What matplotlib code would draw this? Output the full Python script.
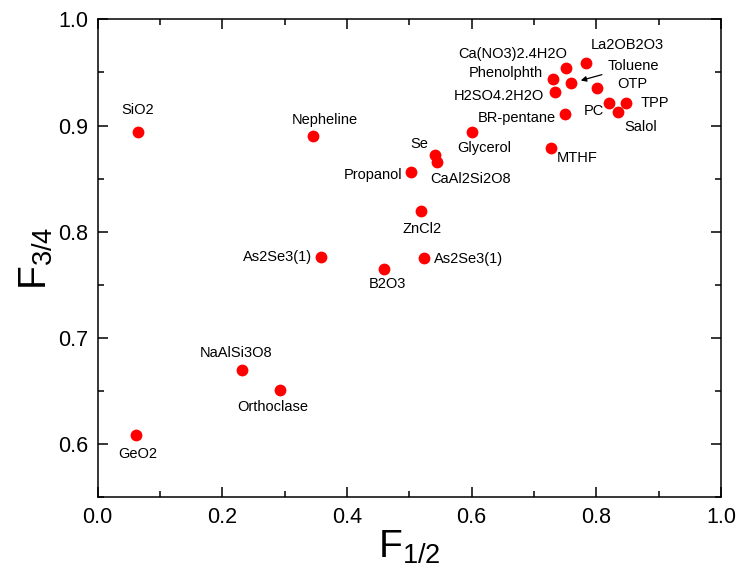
import matplotlib
matplotlib.use("Agg")
import matplotlib.pyplot as plt
from matplotlib.ticker import MultipleLocator

plt.rcParams['font.family'] = ['Liberation Sans', 'DejaVu Sans']
plt.rcParams['mathtext.fontset'] = 'custom'
plt.rcParams['mathtext.rm'] = 'Liberation Sans'
plt.rcParams['mathtext.it'] = 'Liberation Sans'

names = ["SiO2", "GeO2", "NaAlSi3O8", "Orthoclase", "Nepheline", "As2Se3(1)",
         "Se", "CaAl2Si2O8", "Propanol", "Glycerol", "BR-pentane", "MTHF",
         "ZnCl2", "As2Se3(1)", "B2O3", "La2OB2O3", "Toluene", "OTP", "TPP",
         "PC", "Salol", "Ca(NO3)2.4H2O", "Phenolphth", "H2SO4.2H2O"]
f_half = [0.065, 0.061, 0.232, 0.292, 0.345, 0.358,
          0.541, 0.544, 0.502, 0.601, 0.750, 0.727,
          0.519, 0.523, 0.460, 0.784, 0.760, 0.801, 0.848,
          0.820, 0.835, 0.752, 0.731, 0.733]
f_34 = [0.894, 0.609, 0.670, 0.651, 0.890, 0.776,
        0.872, 0.866, 0.856, 0.894, 0.911, 0.879,
        0.820, 0.775, 0.765, 0.959, 0.940, 0.935, 0.921,
        0.921, 0.913, 0.954, 0.944, 0.932]

# label offsets (pixels) and alignment
offsets = [(-1, 22, 'center'), (2, -19, 'center'), (-6, 17, 'center'), (-7, -17, 'center'),
           (12, 16, 'center'), (-9, 0, 'right'), (-16, 11, 'center'), (34, -17, 'center'),
           (-8, -3, 'right'), (12, -16, 'center'), (-9, -4, 'right'), (26, -10, 'center'),
           (1, -18, 'center'), (10, -1, 'left'), (3, -15, 'center'), (4, 18, 'left'),
           (36, 17, 'left'), (20, 4, 'left'), (14, 0, 'left'),
           (-5, -8, 'right'), (23, -15, 'center'), (1, 14, 'right'), (-10, 6, 'right'),
           (-11, -4, 'right')]

fig = plt.figure(figsize=(7.39, 5.70), dpi=100)
ax = fig.add_axes([0.1322, 0.1272, 0.8434, 0.8389])

ax.plot(f_half, f_34, 'o', color='#ff0000', ms=8.5, mec='none', ls='none', zorder=3)

for n, x, y, (dx, dy, ha) in zip(names, f_half, f_34, offsets):
    if n == "Toluene":
        ax.annotate(n, (x, y), xytext=(dx, dy), textcoords='offset pixels',
                    ha=ha, va='center', fontsize=10.5,
                    arrowprops=dict(arrowstyle='-|>', color='black', lw=0.9,
                                    shrinkA=2, shrinkB=7, mutation_scale=8))
    else:
        ax.annotate(n, (x, y), xytext=(dx, dy), textcoords='offset pixels',
                    ha=ha, va='center', fontsize=10.5)

ax.set_xlim(0.0, 1.0)
ax.set_ylim(0.55, 1.0)
ax.xaxis.set_major_locator(MultipleLocator(0.2))
ax.xaxis.set_minor_locator(MultipleLocator(0.1))
ax.yaxis.set_major_locator(MultipleLocator(0.1))
ax.yaxis.set_minor_locator(MultipleLocator(0.05))
ax.tick_params(which='both', direction='in', top=True, right=True, width=1.1,
               labelsize=15.5, pad=7)
ax.tick_params(which='major', length=7)
ax.tick_params(which='minor', length=4)
for s in ax.spines.values():
    s.set_linewidth(1.1)

ax.set_xlabel(r'F$_{\mathregular{1/2}}$', fontsize=28, labelpad=0)
ax.set_ylabel(r'F$_{\mathregular{3/4}}$', fontsize=28, labelpad=2)

fig.savefig('out.png', dpi=100)
